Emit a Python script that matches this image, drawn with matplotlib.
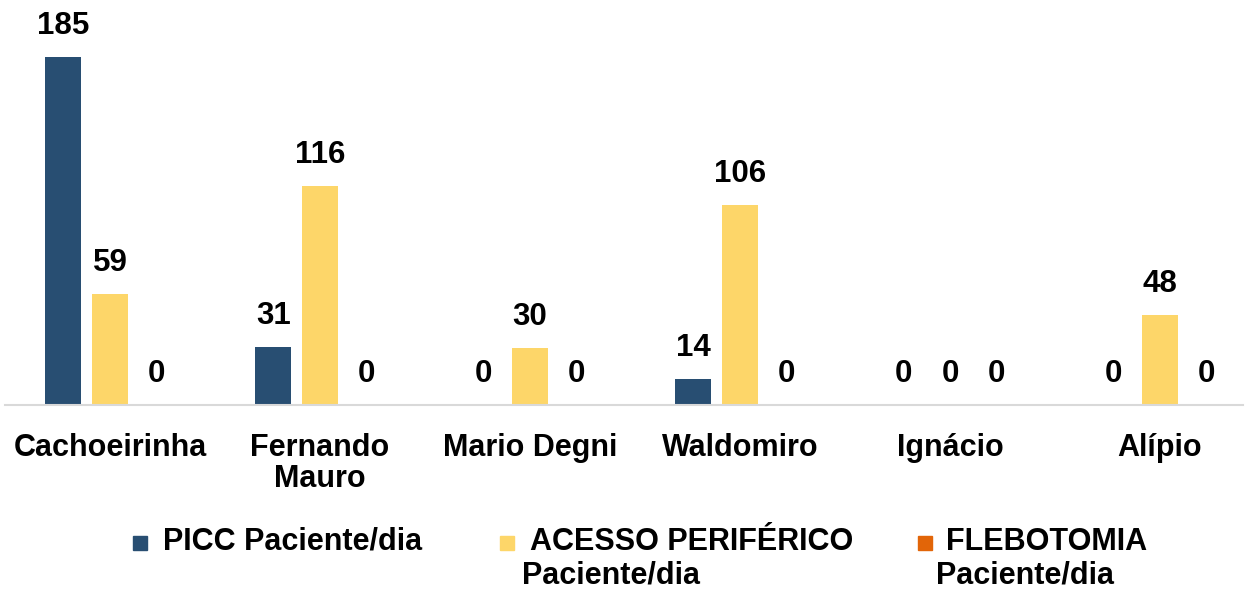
import numpy as np
import matplotlib
matplotlib.use('Agg')
import matplotlib.pyplot as plt
from matplotlib.patches import Rectangle

# data
categories = ['Cachoeirinha', 'Fernando\nMauro', 'Mario Degni', 'Waldomiro', 'Ignácio', 'Alípio']
picc = [185, 31, 0, 14, 0, 0]
acesso = [59, 116, 30, 106, 0, 48]
flebotomia = [0, 0, 0, 0, 0, 0]
series_names = ['PICC Paciente/dia', 'ACESSO PERIFÉRICO\nPaciente/dia', 'FLEBOTOMIA\nPaciente/dia']
colors = ['#284E72', '#FDD669', '#E26508']

plt.rcParams['font.family'] = ['Liberation Sans', 'DejaVu Sans']
plt.rcParams['font.weight'] = 'bold'

fig = plt.figure(figsize=(12.49, 5.90), dpi=100)
ax = fig.add_axes([5 / 1249, 185 / 590, 1238 / 1249, 405 / 590])

x = np.arange(len(categories))
w = 0.172
off = 0.222
for i, vals in enumerate([picc, acesso, flebotomia]):
    pos = x + (i - 1) * off
    ax.bar(pos, vals, width=w, color=colors[i])
    for px, v in zip(pos, vals):
        ax.text(px, v + 8.5, str(v), ha='center', va='bottom', fontsize=22.5, fontweight='bold')

ax.set_xlim(-0.5, 5.395)
ax.set_ylim(0, 215)
ax.set_yticks([])
ax.set_xticks(x)
ax.set_xticklabels(categories, fontsize=22, fontweight='bold', linespacing=1.05)
ax.tick_params(axis='x', length=0, pad=20)
for s in ['top', 'right', 'left']:
    ax.spines[s].set_visible(False)
ax.spines['bottom'].set_color('#D9D9D9')
ax.spines['bottom'].set_linewidth(1.5)

# legend drawn by hand to match the wrapped layout
sq_x = [133, 500, 918]
tx_x = [163, 530, 946]
tx2_x = [163, 522, 936]
for i, name in enumerate(series_names):
    lines = name.split('\n')
    fig.add_artist(Rectangle((sq_x[i] / 1249, 1 - 550 / 590), 14 / 1249, 14 / 590,
                             transform=fig.transFigure, color=colors[i]))
    fig.text(tx_x[i] / 1249, 1 - 542 / 590, lines[0], fontsize=22, fontweight='bold',
             va='center', ha='left')
    if len(lines) > 1:
        fig.text(tx2_x[i] / 1249, 1 - 575 / 590, lines[1], fontsize=22, fontweight='bold',
                 va='center', ha='left')

fig.savefig('out.png', dpi=100)
